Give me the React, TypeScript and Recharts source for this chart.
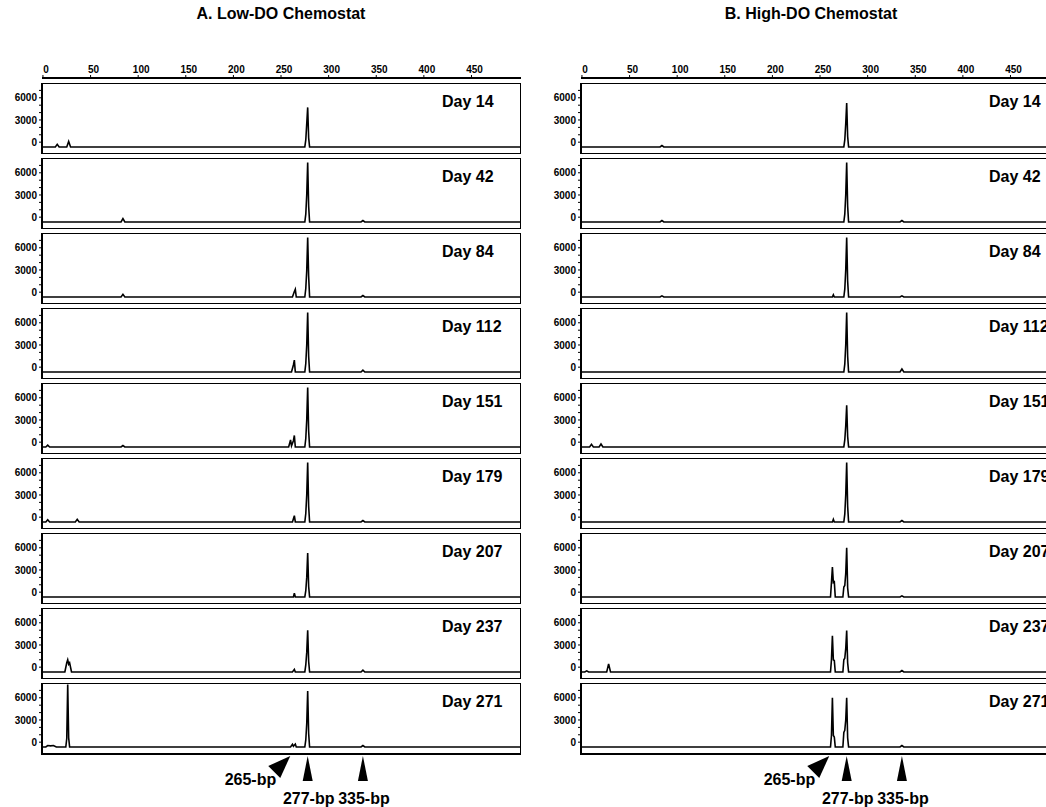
import { LineChart, Line, XAxis, YAxis, ReferenceArea, ReferenceDot } from "recharts";

type Pt = [number, number];

// fragment size (bp) vs fluorescence
const lowDay14: Pt[] = [[0, -650], [13, -650], [15, -300], [17, -650], [25, -650], [27, 100], [29, -650], [275, -650], [276, 300], [277, 2500], [278, 4700], [279, 600], [280, -650], [502, -650]];
const lowDay42: Pt[] = [[0, -650], [82, -650], [84, -200], [86, -650], [275, -650], [276, 400], [277, 3000], [278, 7400], [279, 1500], [280, -650], [334, -650], [336, -450], [338, -650], [502, -650]];
const lowDay84: Pt[] = [[0, -650], [82, -650], [84, -300], [86, -650], [262, -650], [264, 100], [265, 400], [266, -650], [275, -650], [276, 500], [277, 2900], [278, 7400], [279, 2200], [280, -650], [334, -650], [336, -450], [338, -650], [502, -650]];
const lowDay112: Pt[] = [[0, -650], [261, -650], [263, 300], [264, 950], [265, -650], [275, -650], [276, 500], [277, 3000], [278, 7400], [279, 1500], [280, -650], [334, -650], [336, -400], [338, -650], [502, -650]];
const lowDay151: Pt[] = [[0, -650], [3, -650], [5, -400], [7, -650], [82, -650], [84, -450], [86, -650], [258, -650], [260, 300], [261, -500], [263, 200], [264, 900], [265, -650], [275, -650], [276, 500], [277, 3000], [278, 7400], [279, 1500], [280, -650], [502, -650]];
const lowDay179: Pt[] = [[0, -650], [3, -650], [5, -350], [7, -650], [34, -650], [36, -300], [38, -650], [262, -650], [264, 200], [265, -650], [275, -650], [276, 500], [277, 3000], [278, 7400], [279, 1500], [280, -650], [334, -650], [336, -450], [338, -650], [502, -650]];
const lowDay207: Pt[] = [[0, -650], [263, -650], [264, -150], [265, -650], [275, -650], [276, 200], [277, 2000], [278, 5300], [279, 800], [280, -650], [502, -650]];
const lowDay237: Pt[] = [[0, -650], [23, -650], [25, 600], [26, 1000], [27, 400], [28, 600], [30, -650], [262, -650], [264, -300], [265, -650], [275, -650], [276, 300], [277, 2000], [278, 5000], [279, 800], [280, -650], [334, -650], [336, -400], [338, -650], [502, -650]];
const lowDay271: Pt[] = [[0, -650], [3, -650], [5, -450], [8, -500], [11, -450], [14, -650], [24, -650], [25, 500], [26, 7800], [27, 600], [28, -650], [260, -650], [262, -300], [263, -550], [265, -250], [266, -650], [275, -650], [276, 300], [277, 2500], [278, 6900], [279, 1200], [280, -650], [334, -650], [336, -450], [338, -650], [502, -650]];

const highDay14: Pt[] = [[0, -650], [82, -650], [84, -450], [86, -650], [275, -650], [276, 300], [277, 2500], [278, 5300], [279, 800], [280, -650], [502, -650]];
const highDay42: Pt[] = [[0, -650], [82, -650], [84, -450], [86, -650], [275, -650], [276, 400], [277, 3000], [278, 7400], [279, 1500], [280, -650], [334, -650], [336, -450], [338, -650], [502, -650]];
const highDay84: Pt[] = [[0, -650], [82, -650], [84, -500], [86, -650], [263, -650], [264, -350], [265, -650], [275, -650], [276, 400], [277, 3000], [278, 7400], [279, 1500], [280, -650], [334, -650], [336, -500], [338, -650], [502, -650]];
const highDay112: Pt[] = [[0, -650], [275, -650], [276, 400], [277, 3000], [278, 7400], [279, 1500], [280, -650], [334, -650], [336, -250], [338, -650], [502, -650]];
const highDay151: Pt[] = [[0, -650], [8, -650], [10, -300], [12, -650], [18, -650], [20, -250], [22, -650], [275, -650], [276, 300], [277, 2200], [278, 5000], [279, 800], [280, -650], [502, -650]];
const highDay179: Pt[] = [[0, -650], [263, -650], [264, -300], [265, -650], [275, -650], [276, 400], [277, 3000], [278, 7400], [279, 1500], [280, -650], [334, -650], [336, -450], [338, -650], [502, -650]];
const highDay207: Pt[] = [[0, -650], [261, -650], [262, 1300], [263, 3400], [264, 1300], [265, 1400], [266, -650], [274, -650], [275, 700], [276, 900], [277, 2500], [278, 6000], [279, 600], [280, -650], [334, -650], [336, -500], [338, -650], [502, -650]];
const highDay237: Pt[] = [[0, -650], [3, -650], [5, -500], [7, -650], [26, -650], [28, 450], [30, -650], [261, -650], [262, 1000], [263, 4250], [264, 1000], [265, 900], [266, -650], [274, -650], [275, 1000], [276, 1200], [277, 2500], [278, 4950], [279, 600], [280, -650], [334, -650], [336, -450], [338, -650], [502, -650]];
const highDay271: Pt[] = [[0, -650], [261, -650], [262, 900], [263, 6000], [264, 900], [265, 700], [266, -650], [274, -650], [275, 1300], [276, 1600], [277, 3000], [278, 6000], [279, 600], [280, -650], [334, -650], [336, -450], [338, -650], [502, -650]];

const lowTraces = [lowDay14, lowDay42, lowDay84, lowDay112, lowDay151, lowDay179, lowDay207, lowDay237, lowDay271];
const highTraces = [highDay14, highDay42, highDay84, highDay112, highDay151, highDay179, highDay207, highDay237, highDay271];
const dayLabels = ["Day 14", "Day 42", "Day 84", "Day 112", "Day 151", "Day 179", "Day 207", "Day 237", "Day 271"];
const panelTitles = ["A. Low-DO Chemostat", "B. High-DO Chemostat"];

const sizeTicks = [0, 50, 100, 150, 200, 250, 300, 350, 400, 450];
const rfuTicks = [0, 1000, 2000, 3000, 4000, 5000, 6000, 7000];
const rfuLabelled = [0, 3000, 6000];
const markerSizes = [265, 277, 335];
const markerLabels = ["265-bp", "277-bp", "335-bp"];

const FONT = "'Liberation Sans', Arial, sans-serif";
const X_DOMAIN: [number, number] = [-1, 502];
const Y_DOMAIN: [number, number] = [-1600, 8000];
const CHART_W = 521;
const AXIS_W = 42;
const BOX_TOP = 83;
const STEP = 75;
const BOX_H = 71;

function Arrow(props: any) {
  const { cx, cy, idx } = props;
  if (cx == null || cy == null) return <g />;
  if (idx === 0) {
    const tx = cx - 6, ty = cy + 2;
    return (
      <g>
        <polygon points={`${tx},${ty} ${tx - 22},${ty + 10} ${tx - 10},${ty + 22}`} fill="#000" />
        <text x={cx - 20} y={cy + 27} textAnchor="end" dominantBaseline="middle" fontFamily={FONT} fontWeight="bold" fontSize={16} fill="#000">
          {markerLabels[idx]}
        </text>
      </g>
    );
  }
  return (
    <g>
      <polygon points={`${cx},${cy + 2} ${cx - 5},${cy + 27} ${cx + 5},${cy + 27}`} fill="#000" />
      <text x={cx + 1} y={cy + 46} textAnchor="middle" dominantBaseline="middle" fontFamily={FONT} fontWeight="bold" fontSize={16} fill="#000">
        {markerLabels[idx]}
      </text>
    </g>
  );
}

function TopAxis() {
  const data = [{ bp: 0, v: 0 }, { bp: 500, v: 0 }];
  return (
    <LineChart width={CHART_W} height={30} data={data} margin={{ top: 0, right: 0, bottom: 0, left: AXIS_W }}>
      <XAxis
        type="number"
        dataKey="bp"
        domain={X_DOMAIN}
        ticks={sizeTicks}
        orientation="top"
        height={23}
        interval={0}
        tickSize={3}
        tickMargin={2}
        axisLine={{ stroke: "#000", strokeWidth: 2 }}
        tickLine={{ stroke: "#000" }}
        tick={{ fontSize: 10, fontWeight: "bold", fill: "#000", fontFamily: FONT, dx: 3 }}
      />
      <YAxis hide domain={[0, 1]} />
      <Line dataKey="v" stroke="none" dot={false} isAnimationActive={false} />
    </LineChart>
  );
}

function Trace({ points, last }: { points: Pt[]; last: boolean }) {
  const data = points.map(([bp, rfu]) => ({ bp, rfu }));
  const extra = last ? 53 : 0;
  return (
    <LineChart width={CHART_W} height={BOX_H + extra} data={data} margin={{ top: 0, right: 0, bottom: extra, left: 0 }}>
      <XAxis type="number" dataKey="bp" domain={X_DOMAIN} hide />
      <YAxis
        type="number"
        domain={Y_DOMAIN}
        ticks={rfuTicks}
        width={AXIS_W}
        interval={0}
        tickSize={3}
        tickMargin={2}
        axisLine={false}
        tickLine={{ stroke: "#000" }}
        tickFormatter={(v: number) => (rfuLabelled.includes(v) ? String(v) : "")}
        tick={{ fontSize: 10, fontWeight: "bold", fill: "#000", fontFamily: FONT }}
      />
      <ReferenceArea x1={X_DOMAIN[0]} x2={X_DOMAIN[1]} y1={Y_DOMAIN[0]} y2={Y_DOMAIN[1]} fill="none" stroke="#000" strokeWidth={2} ifOverflow="visible" />
      <Line type="linear" dataKey="rfu" stroke="#000" strokeWidth={1.6} dot={false} isAnimationActive={false} />
      {last &&
        markerSizes.map((s, i) => (
          <ReferenceDot key={s} x={s + 1} y={Y_DOMAIN[0]} r={0} ifOverflow="visible" shape={(p: any) => <Arrow {...p} idx={i} />} />
        ))}
    </LineChart>
  );
}

function Panel({ left, title, titleX, labelLeft, traces }: { left: number; title: string; titleX: number; labelLeft: number; traces: Pt[][] }) {
  return (
    <div style={{ position: "absolute", left, top: 0, width: CHART_W, height: 807 }}>
      <div style={{ position: "absolute", left: titleX - 150, width: 300, top: 5, textAlign: "center", fontFamily: FONT, fontWeight: "bold", fontSize: 16, lineHeight: "18px" }}>
        {title}
      </div>
      <div style={{ position: "absolute", left: 0, top: 55 }}>
        <TopAxis />
      </div>
      {traces.map((t, i) => (
        <div key={i} style={{ position: "absolute", left: 0, top: BOX_TOP + STEP * i }}>
          <Trace points={t} last={i === traces.length - 1} />
          <div style={{ position: "absolute", left: labelLeft, top: 11, whiteSpace: "nowrap", fontFamily: FONT, fontWeight: "bold", fontSize: 16, lineHeight: "16px" }}>
            {dayLabels[i]}
          </div>
        </div>
      ))}
    </div>
  );
}

export default function App() {
  return (
    <div style={{ position: "absolute", left: 0, top: 0, width: 1046, height: 807, overflow: "hidden", background: "#fff" }}>
      <Panel left={0} title={panelTitles[0]} titleX={281} labelLeft={442} traces={lowTraces} />
      <Panel left={539} title={panelTitles[1]} titleX={272} labelLeft={450} traces={highTraces} />
    </div>
  );
}
